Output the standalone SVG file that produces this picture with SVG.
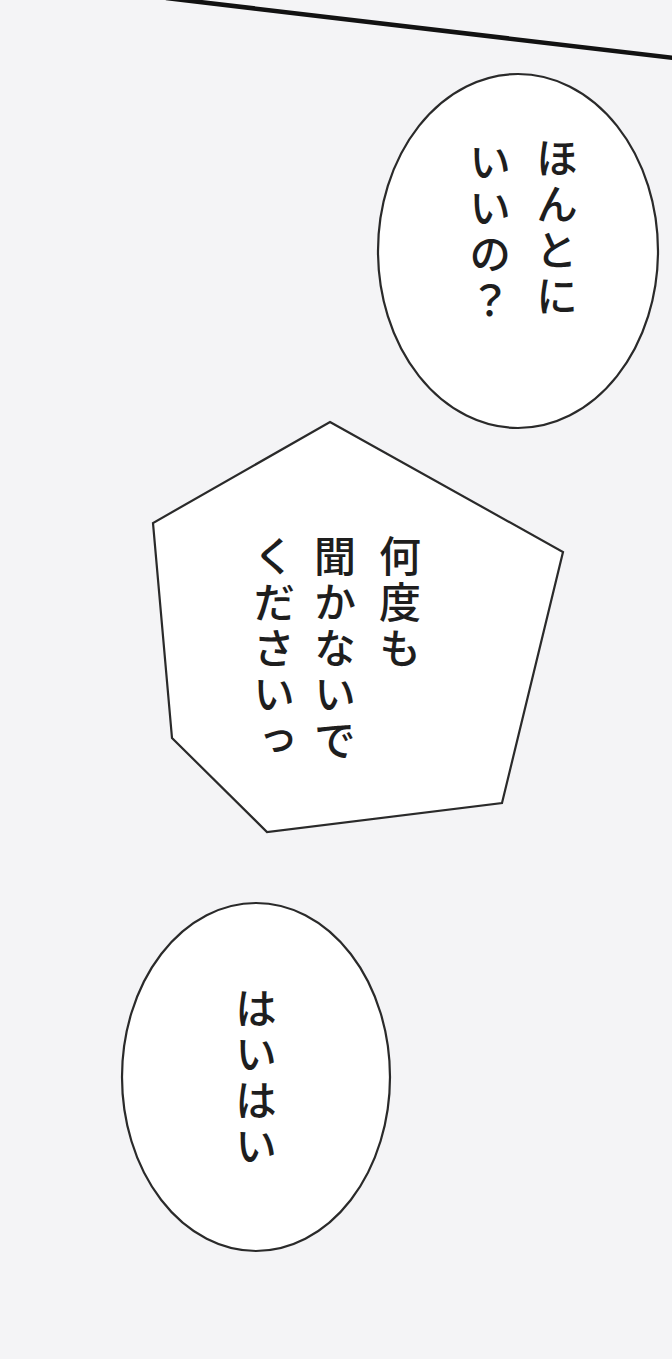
<svg xmlns="http://www.w3.org/2000/svg" width="672" height="1359" viewBox="0 0 672 1359">
  <style>
    .bubble { fill: #ffffff; stroke: #2a2a2a; stroke-width: 2.2; }
    .vt { font-family: "Noto Sans CJK JP", "Noto Sans", sans-serif; font-size: 42px; fill: #1e1e1e; writing-mode: vertical-rl; letter-spacing: 4px; font-weight: 500; }
  </style>
  <rect x="0" y="0" width="672" height="1359" fill="#f4f4f6"/>
  <g id="panel-border">
    <line x1="166" y1="-2" x2="674" y2="58" stroke="#121212" stroke-width="4.5"/>
  </g>
  <g id="connectors"></g>
  <g id="bubble-top">
    <ellipse class="bubble" cx="518" cy="251" rx="140" ry="177"/>
    <text class="vt" x="557" y="137">ほんとに</text>
    <text class="vt" x="490" y="141">いいの？</text>
  </g>
  <g id="bubble-middle">
    <polygon class="bubble" points="330,422 563,552 502,803 267,832 172,738 153,523"/>
    <text class="vt" x="400" y="535">何度も</text>
    <text class="vt" x="335" y="535">聞かないで</text>
    <text class="vt" x="274" y="535">くださいっ</text>
  </g>
  <g id="bubble-bottom">
    <ellipse class="bubble" cx="256" cy="1077" rx="134" ry="174"/>
    <text class="vt" x="256" y="987">はいはい</text>
  </g>
</svg>
